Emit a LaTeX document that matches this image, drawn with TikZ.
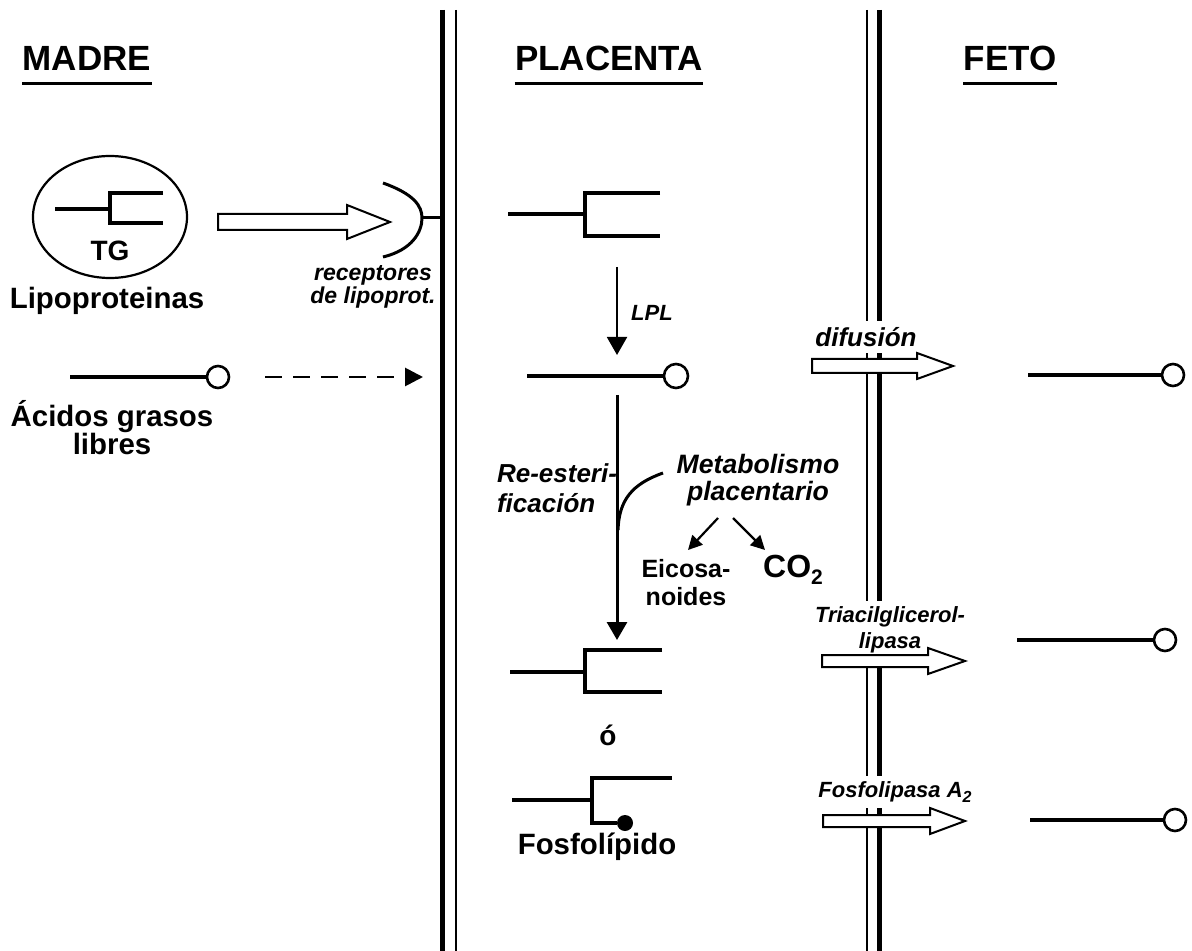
\documentclass[tikz,border=0pt]{standalone}
\usepackage{fontspec}
\setmainfont{Liberation Sans}
\usetikzlibrary{arrows.meta}

\begin{document}
\begin{tikzpicture}[x=0.5pt,y=-0.5pt]
	\tikzstyle{membrana}=[line width=2.5pt]
	\tikzstyle{membranafina}=[line width=1pt]
	\tikzstyle{cadena}=[line width=1.6pt]
	\tikzstyle{hueco}=[draw,line width=1pt,fill=white,line join=miter]
	\tikzstyle{titulo}=[font=\fontsize{17.5}{20}\selectfont\bfseries,inner sep=0pt]
	\tikzstyle{etiq}=[font=\fontsize{14.7}{14}\selectfont\bfseries,align=center]
	\tikzstyle{enzima}=[font=\fontsize{11}{13}\selectfont\bfseries\itshape,align=center,fill=white,inner sep=3pt]
	\tikzstyle{flecha}=[-{Triangle[length=9pt,width=10pt]},line width=1pt]
	\useasboundingbox (0,0) rectangle (1192,951);
	% membranas
	\draw[membrana] (442,10) -- (442,951);
	\draw[membranafina] (456,10) -- (456,951);
	\draw[membranafina] (867,10) -- (867,951);
	\draw[membrana] (879,10) -- (879,951);
	% titulos
	\node[titulo] (madre) at (87,58) {MADRE};
	\node[titulo] (placenta) at (609,58) {PLACENTA};
	\node[titulo] (feto) at (1010,58) {FETO};
	\foreach \t in {madre,placenta,feto}
		\draw[line width=1.5pt] ([yshift=-6.5pt]\t.base west) -- ([yshift=-6.5pt]\t.base east);
	% madre
	\draw[line width=1.1pt] (110,217) ellipse [x radius=38.5pt,y radius=30.5pt];
	\draw[cadena] (55,209) -- (110,209);
	\draw[cadena] (163,193) -| (110,223) -- (163,223);
	\node[font=\fontsize{14}{14}\selectfont\bfseries] (tg) at (110,251) {TG};
	\node[etiq] (lipo) at (107,301) {Lipoproteinas};
	\draw[hueco] (218,214) -- (347,214) -- (347,205) -- (390,222) -- (347,239) -- (347,230) -- (218,230) -- cycle;
	\draw[line width=1.5pt] (383,183) .. controls (414,194) and (422,206) .. (422,218) .. controls (422,232) and (412,250) .. (383,257);
	\draw[line width=1.5pt] (422,218) -- (442,218);
	\node[font=\fontsize{11.5}{11.5}\selectfont\bfseries\itshape,align=center] (recep) at (373,287) {receptores\\de lipoprot.};
	\draw[cadena] (70,377) -- (207,377);
	\draw[line width=1.3pt] (218,377) circle [radius=5.5pt];
	\draw[dash pattern=on 8.5pt off 5.5pt,line width=1.4pt,-{Triangle[length=9pt,width=9pt]}] (265,377) -- (423,377);
	\node[etiq] (acidos) at (112,428) {Ácidos grasos\\libres};
	% placenta
	\draw[cadena] (508,214) -- (585,214);
	\draw[cadena] (660,193) -| (585,236) -- (660,236);
	\draw[flecha] (617,267) -- (617,355);
	\node[font=\fontsize{11}{11}\selectfont\bfseries\itshape] (lpl) at (652,313) {LPL};
	\draw[cadena] (527,376) -- (664,376);
	\draw[line width=1.3pt] (676,376) circle [radius=6pt];
	\draw[line width=1.5pt,-{Triangle[length=9pt,width=10pt]}] (617,395) -- (617,640);
	\node[font=\fontsize{13}{15}\selectfont\bfseries\itshape,align=left,anchor=west] (reest) at (490,488) {Re-esteri-\\ficación};
	\draw[line width=1.5pt] (663,473) .. controls (632,484) and (619,500) .. (618,530);
	\node[font=\fontsize{13.3}{13.5}\selectfont\bfseries\itshape,align=center] (metab) at (758,480) {Metabolismo\\placentario};
	\coordinate (m1) at (718,518);
	\coordinate (m2) at (733,518);
	\node[font=\fontsize{12.5}{14}\selectfont\bfseries,align=center] (eico) at (686,583) {Eicosa-\\noides};
	\node[font=\fontsize{16}{16}\selectfont\bfseries] (co2) at (793,570) {CO\raisebox{-3.5pt}{\fontsize{10.5}{10.5}\selectfont 2}};
	\draw[-{Triangle[length=7pt,width=7pt]},line width=1.1pt] (m1) -- (688,550);
	\draw[-{Triangle[length=7pt,width=7pt]},line width=1.1pt] (m2) -- (765,550);
	\draw[cadena] (510,672) -- (585,672);
	\draw[cadena] (662,650) -| (585,692) -- (662,692);
	\node[font=\fontsize{14}{14}\selectfont\bfseries] (o) at (608,735) {ó};
	\draw[cadena] (512,800) -- (592,800);
	\draw[cadena] (672,778) -| (592,823) -- (617,823);
	\fill (625,823) circle [radius=4pt];
	\node[etiq] (fosfo) at (597,847) {Fosfolípido};
	% feto
	\node[enzima,font=\fontsize{13}{13}\selectfont\bfseries\itshape] (difus) at (866,337) {difusión};
	\draw[hueco] (812,359) -- (917,359) -- (917,353) -- (953,366) -- (917,379) -- (917,373) -- (812,373) -- cycle;
	\draw[cadena] (1028,375) -- (1162,375);
	\draw[line width=1.3pt] (1173,375) circle [radius=5.5pt];
	\node[enzima] (triac) at (890,630) {Triacilglicerol-\\lipasa};
	\draw[hueco] (822,655) -- (928,655) -- (928,648) -- (965,661) -- (928,674) -- (928,667) -- (822,667) -- cycle;
	\draw[cadena] (1017,640) -- (1153,640);
	\draw[line width=1.3pt] (1165,640) circle [radius=5.5pt];
	\node[enzima] (fosfolip) at (895,792) {Fosfolipasa A\raisebox{-2.5pt}{\fontsize{8}{8}\selectfont 2}};
	\draw[hueco] (823,815) -- (930,815) -- (930,808) -- (965,821) -- (930,834) -- (930,827) -- (823,827) -- cycle;
	\draw[cadena] (1030,820) -- (1163,820);
	\draw[line width=1.3pt] (1175,820) circle [radius=5.5pt];
\end{tikzpicture}
\end{document}
